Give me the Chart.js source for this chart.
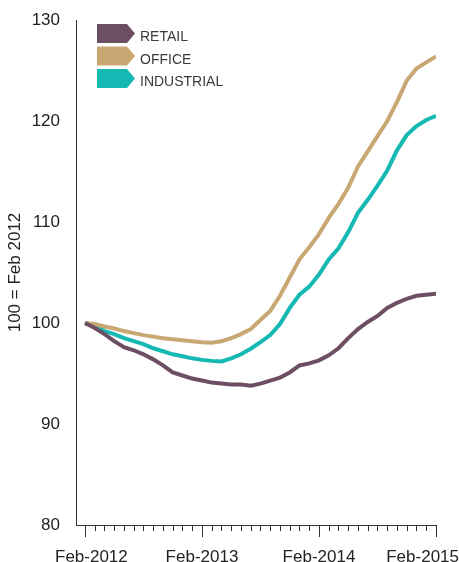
<!DOCTYPE html>
<html>
<head>
<meta charset="utf-8">
<style>
  html, body { margin: 0; padding: 0; background: #fff; }
  canvas { display: block; }
</style>
</head>
<body>
<canvas id="chart" width="459" height="562"></canvas>
<script src="https://cdn.jsdelivr.net/npm/chart.js@4.4.1/dist/chart.umd.min.js"></script>
<script>
// Monthly index, 100 = Feb 2012. Point i is i months after Feb-2012 (Feb-2012 .. Feb-2015)
const retail = [
  100.0, 99.5, 98.9, 98.2, 97.6, 97.3, 96.9, 96.4, 95.8, 95.1, 94.8, 94.5,
  94.3, 94.1, 94.0, 93.9, 93.9, 93.8, 94.0, 94.3, 94.6, 95.1, 95.8, 96.0,
  96.3, 96.8, 97.5, 98.5, 99.4, 100.1, 100.7, 101.5, 102.0, 102.4, 102.7, 102.8,
  102.9
];
const office = [
  100.0, 99.9, 99.65, 99.45, 99.2, 99.0, 98.8, 98.65, 98.5, 98.4, 98.3, 98.2,
  98.1, 98.05, 98.2, 98.5, 98.9, 99.4, 100.3, 101.2, 102.7, 104.5, 106.3, 107.5,
  108.8, 110.4, 111.8, 113.4, 115.5, 117.0, 118.5, 120.0, 121.9, 124.0, 125.2, 125.8,
  126.4
];
const industrial = [
  100.0, 99.7, 99.2, 98.9, 98.5, 98.2, 97.9, 97.5, 97.2, 96.9, 96.7, 96.5,
  96.35, 96.25, 96.2, 96.5, 96.9, 97.45, 98.1, 98.8, 99.9, 101.5, 102.8, 103.6,
  104.8, 106.3, 107.4, 109.0, 110.9, 112.2, 113.6, 115.1, 117.1, 118.6, 119.5, 120.1,
  120.5
];

const seriesNames = ['RETAIL', 'OFFICE', 'INDUSTRIAL'];
const yearLabels  = ['Feb-2012', 'Feb-2013', 'Feb-2014', 'Feb-2015'];
const yearMonths  = [0, 12, 24, 36];
const yTicks      = [80, 90, 100, 110, 120, 130];

const colors = ['#6d4f64', '#c8a773', '#15b8b2'];
const FONT = '"Liberation Sans", Arial, Helvetica, sans-serif';

const toPoints = (arr) => arr.map((v, i) => ({ x: i, y: v }));

// ---------------------------------------------------------------------------
// monthly tick marks, year labels and arrow legend
// ---------------------------------------------------------------------------
const decor = {
  id: 'decor',
  afterDraw(chart) {
    const { ctx, chartArea } = chart;
    const x = chart.scales.x;

    ctx.save();
    ctx.strokeStyle = '#333';
    ctx.lineWidth = 1;
    for (let m = 0; m < retail.length; m++) {
      const px = Math.round(x.getPixelForValue(m)) + 0.5;
      const len = m % 12 === 0 ? 12 : 6;
      ctx.beginPath();
      ctx.moveTo(px, x.top);
      ctx.lineTo(px, x.top + len);
      ctx.stroke();
    }

    // year labels, kept inside the picture like the source
    ctx.font = '17px ' + FONT;
    ctx.fillStyle = '#222';
    ctx.textBaseline = 'alphabetic';
    ctx.textAlign = 'center';
    yearLabels.forEach((lab, k) => {
      const w = ctx.measureText(lab).width;
      let cx = x.getPixelForValue(yearMonths[k]);
      cx = Math.max(cx, chartArea.left - 21 + w / 2);
      cx = Math.min(cx, chart.width - w / 2);
      ctx.fillText(lab, cx, chart.height - 0.5);
    });

    // legend with arrow-shaped swatches
    ctx.font = '14px ' + FONT;
    ctx.textAlign = 'left';
    chart.data.datasets.forEach((ds, k) => {
      const left = chartArea.left + 21;
      const top = chartArea.top + 4 + k * 22.5;
      const w = 38, h = 19, tip = 8;
      ctx.fillStyle = ds.borderColor;
      ctx.beginPath();
      ctx.moveTo(left, top);
      ctx.lineTo(left + w - tip, top);
      ctx.lineTo(left + w, top + h / 2);
      ctx.lineTo(left + w - tip, top + h);
      ctx.lineTo(left, top + h);
      ctx.closePath();
      ctx.fill();
      ctx.fillStyle = '#3a3a3a';
      ctx.fillText(ds.label, left + 43, top + 17);
    });
    ctx.restore();
  }
};

new Chart(document.getElementById('chart'), {
  type: 'line',
  data: {
    datasets: [retail, office, industrial].map((arr, k) => ({
      label: seriesNames[k],
      data: toPoints(arr),
      borderColor: colors[k],
      backgroundColor: colors[k],
      borderWidth: 4,
      pointRadius: 0,
      tension: 0,
      fill: false,
    })),
  },
  options: {
    responsive: false,
    animation: false,
    devicePixelRatio: 1,
    layout: { padding: { top: 20, right: 23, left: 0, bottom: 0 } },
    plugins: { legend: { display: false }, tooltip: { enabled: false } },
    scales: {
      x: {
        type: 'linear',
        min: -0.92,
        max: 36,
        grid: { display: false },
        border: { display: true, color: '#333', width: 1 },
        ticks: { display: false },
        afterFit(scale) {
          scale.height = 37;
          scale.paddingLeft = 0;
          scale.paddingRight = 0;
        },
      },
      y: {
        min: 80,
        max: 130,
        afterBuildTicks(scale) {
          scale.ticks = yTicks.map(v => ({ value: v }));
        },
        grid: { display: false },
        border: { display: true, color: '#333', width: 1 },
        ticks: {
          color: '#222',
          padding: 8,
          font: { family: FONT, size: 17 },
        },
        title: {
          display: true,
          text: '100 = Feb 2012',
          color: '#222',
          font: { family: FONT, size: 17 },
          padding: { top: 5, bottom: 0 },
        },
        afterFit(scale) {
          scale.width = 76;
        },
      },
    },
  },
  plugins: [decor],
});
</script>
</body>
</html>
